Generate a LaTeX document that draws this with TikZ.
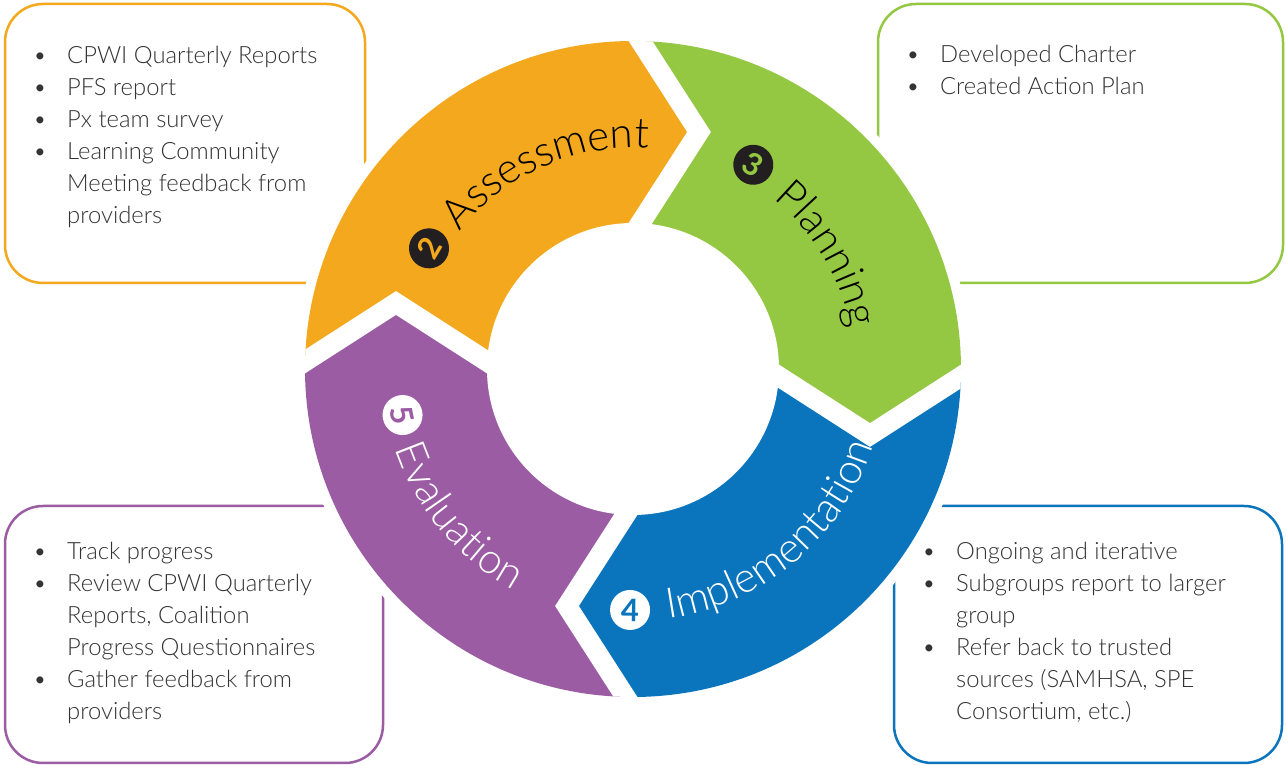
\documentclass[tikz,border=0pt]{standalone}
\usepackage{fontspec}
\setmainfont{Lato}
\newfontfamily\lightfnt{Lato Light}
\usetikzlibrary{decorations.text}
\definecolor{cOr}{HTML}{F4A81D}
\definecolor{cGr}{HTML}{95C842}
\definecolor{cBl}{HTML}{0A75BC}
\definecolor{cPu}{HTML}{9B5CA4}
\definecolor{txt}{HTML}{333333}
\definecolor{numdark}{HTML}{231F20}
\newcommand\bodyfnt{\lightfnt\fontsize{23.8}{32}\selectfont}
\newcommand\ringfnt{\lightfnt\fontsize{42}{42}\selectfont}
\begin{document}
\begin{tikzpicture}[x=1pt,y=1pt,
  infobox/.style={draw, line width=2.5pt, rounded corners=38pt},
  listnode/.style={anchor=base west, inner sep=0pt, text=txt, font=\bodyfnt},
  numc/.style={circle, minimum size=40pt, inner sep=0pt, font=\fontsize{31}{31}\selectfont\bfseries},
  gapline/.style={white, line width=20pt, line join=miter}]
\useasboundingbox (0,0) rectangle (1286,765);
\fill[white] (0,0) rectangle (1286,765);
% boxes
\draw[infobox, cOr] (5,482) rectangle (365,761);
\draw[infobox, cGr] (878,482) rectangle (1283,761);
\draw[infobox, cPu] (5,2) rectangle (383,259);
\draw[infobox, cBl] (894,2) rectangle (1282,259);
% lists
\node[listnode] (lA) at (33,701) {\begin{tabular}[t]{@{}p{34pt}@{}l@{}}
\textbullet & CPWI Quarterly Reports\\
\textbullet & PFS report\\
\textbullet & Px team survey\\
\textbullet & Learning Community\\
 & Meeting feedback from\\
 & providers
\end{tabular}};
\node[listnode] (lP) at (906,702) {\begin{tabular}[t]{@{}p{34pt}@{}l@{}}
\textbullet & Developed Charter\\
\textbullet & Created Action Plan
\end{tabular}};
\node[listnode] (lE) at (33,205) {\begin{tabular}[t]{@{}p{34pt}@{}l@{}}
\textbullet & Track progress\\
\textbullet & Review CPWI Quarterly\\
 & Reports, Coalition\\
 & Progress Questionnaires\\
\textbullet & Gather feedback from\\
 & providers
\end{tabular}};
\node[listnode] (lI) at (922,205) {\begin{tabular}[t]{@{}p{34pt}@{}l@{}}
\textbullet & Ongoing and iterative\\
\textbullet & Subgroups report to larger\\
 & group\\
\textbullet & Refer back to trusted\\
 & sources (SAMHSA, SPE\\
 & Consortium, etc.)
\end{tabular}};
% ring
\begin{scope}[shift={(633,396)}]
  \fill[white] (0,0) circle (338pt);
  \begin{scope}
    \clip (0,0) circle (328pt);
    \foreach \rot/\col in {0/cOr,-90/cGr,-180/cBl,-270/cPu}{
      \fill[\col, rotate=\rot] (0,7.5) -- (-146,7.5) -- (-237,66) -- (-328,7.5) -- (-700,7.5)
        -- (-700,700) -- (7.5,700) -- (7.5,328) -- (66,237) -- (7.5,146) -- (7.5,0) -- cycle;
    }
    \foreach \rot in {0,-90,-180,-270}{
      \draw[gapline, rotate=\rot] (-16,110) -- (7.5,146) -- (66,237) -- (7.5,328) -- (-4.2,346);
    }
  \end{scope}
  \fill[white] (0,0) circle (146pt);
  % labels
  \path[decorate, decoration={text along path, text align=left,
      text={|\ringfnt\color{black}|Assessment}}]
    (141.5:221pt) arc[start angle=141.5, end angle=30, radius=221pt];
  \path[decorate, decoration={text along path, text align=left,
      text={|\ringfnt\color{black}|Planning}}]
    (50.5:221pt) arc[start angle=50.5, end angle=-40, radius=221pt];
  \path[decorate, decoration={text along path, text align=left,
      text={|\ringfnt\color{white}|Implementation}}]
    (278:252pt) arc[start angle=278, end angle=370, radius=252pt];
  \path[decorate, decoration={text along path, text align=left,
      text={|\ringfnt\color{white}|Evaluation}}]
    (198.5:251pt) arc[start angle=198.5, end angle=275, radius=251pt];
  \node[numc, fill=numdark, text=cOr, rotate=59.4] (n2) at (149.4:237pt) {2};
  \node[numc, fill=numdark, text=cGr, rotate=-30.5] (n3) at (59.5:237pt) {3};
  \node[numc, fill=white, text=cBl, rotate=-0.7] (n4) at (269.3:241pt) {4};
  \node[numc, fill=white, text=cPu, rotate=-78.7] (n5) at (191.3:235pt) {5};
\end{scope}
\end{tikzpicture}
\end{document}
